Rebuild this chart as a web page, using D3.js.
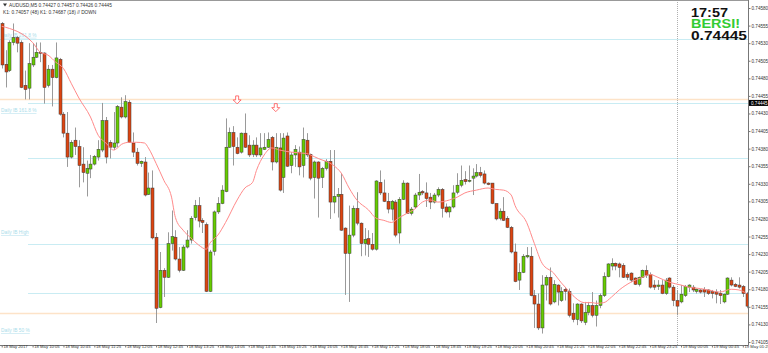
<!DOCTYPE html>
<html>
<head>
<meta charset="utf-8">
<script src="https://cdn.jsdelivr.net/npm/d3@7"></script>
<style>
  body { margin: 0; background: #fff; }
  svg { display: block; font-family: "Liberation Sans", Arial, sans-serif; }
</style>
</head>
<body>
<div id="chart"></div>
<script>
// AUDUSD M5, 18 May 09:25 .. 19 May 01:30 (prices)
const opens = [
  0.74558,0.74500,0.74491,0.74531,0.74538,0.74531,0.74470,0.74466,0.74499,0.74510,
  0.74517,0.74516,0.74470,0.74493,0.74481,0.74507,0.74429,0.74402,0.74368,0.74392,
  0.74383,0.74358,0.74345,0.74351,0.74358,0.74368,0.74378,0.74420,0.74389,0.74382,
  0.74388,0.74439,0.74425,0.74446,0.74388,0.74375,0.74359,0.74361,0.74315,0.74324,
  0.74254,0.74154,0.74207,0.74197,0.74245,0.74254,0.74223,0.74207,0.74240,0.74250,
  0.74282,0.74299,0.74278,0.74272,0.74177,0.74234,0.74290,0.74302,0.74319,0.74382,
  0.74403,0.74382,0.74375,0.74402,0.74385,0.74372,0.74385,0.74371,0.74379,0.74382,
  0.74396,0.74361,0.74381,0.74339,0.74398,0.74356,0.74371,0.74375,0.74356,0.74392,
  0.74372,0.74339,0.74361,0.74339,0.74352,0.74362,0.74304,0.74312,0.74315,0.74267,
  0.74231,0.74257,0.74295,0.74274,0.74245,0.74252,0.74244,0.74237,0.74332,0.74317,
  0.74305,0.74294,0.74304,0.74260,0.74308,0.74331,0.74288,0.74297,0.74314,0.74319,
  0.74317,0.74311,0.74304,0.74314,0.74322,0.74297,0.74290,0.74297,0.74318,0.74328,
  0.74336,0.74334,0.74338,0.74341,0.74346,0.74344,0.74331,0.74331,0.74302,0.74281,0.74291,
  0.74281,0.74268,0.74233,0.74193,0.74204,0.74226,0.74227,0.74171,0.74159,0.74125,
  0.74186,0.74197,0.74162,0.74186,0.74164,0.74180,0.74177,0.74146,0.74137,0.74159,
  0.74133,0.74147,0.74157,0.74143,0.74157,0.74171,0.74198,0.74213,0.74217,0.74216,
  0.74214,0.74201,0.74203,0.74196,0.74187,0.74197,0.74207,0.74201,0.74186,0.74184,
  0.74186,0.74174,0.74196,0.74183,0.74164,0.74162,0.74171,0.74183,0.74183,0.74177,
  0.74179,0.74180,0.74179,0.74177,0.74176,0.74174,0.74162,0.74173,0.74193,0.74187,
  0.74186,0.74184,0.74174
];
const highs = [
  0.74560,0.74520,0.74534,0.74558,0.74540,0.74534,0.74491,0.74530,0.74530,0.74531,
  0.74531,0.74517,0.74499,0.74499,0.74531,0.74509,0.74432,0.74432,0.74392,0.74410,
  0.74392,0.74382,0.74363,0.74371,0.74371,0.74392,0.74445,0.74425,0.74392,0.74432,
  0.74442,0.74453,0.74456,0.74449,0.74403,0.74381,0.74363,0.74368,0.74346,0.74349,
  0.74260,0.74233,0.74210,0.74261,0.74292,0.74264,0.74240,0.74243,0.74264,0.74284,
  0.74307,0.74311,0.74281,0.74275,0.74236,0.74292,0.74311,0.74328,0.74423,0.74410,
  0.74412,0.74396,0.74403,0.74430,0.74399,0.74392,0.74396,0.74402,0.74402,0.74403,
  0.74398,0.74402,0.74402,0.74402,0.74403,0.74375,0.74385,0.74383,0.74410,0.74402,
  0.74373,0.74363,0.74362,0.74354,0.74365,0.74378,0.74378,0.74324,0.74345,0.74268,
  0.74299,0.74299,0.74318,0.74275,0.74267,0.74264,0.74260,0.74335,0.74349,0.74336,
  0.74317,0.74307,0.74307,0.74311,0.74335,0.74332,0.74297,0.74317,0.74344,0.74321,
  0.74332,0.74317,0.74317,0.74325,0.74324,0.74302,0.74298,0.74328,0.74345,0.74356,
  0.74348,0.74356,0.74352,0.74358,0.74354,0.74349,0.74332,0.74331,0.74302,0.74295,0.74311,
  0.74284,0.74270,0.74245,0.74217,0.74230,0.74240,0.74240,0.74179,0.74174,0.74200,
  0.74200,0.74211,0.74193,0.74187,0.74183,0.74183,0.74181,0.74160,0.74160,0.74160,
  0.74162,0.74162,0.74176,0.74164,0.74174,0.74204,0.74217,0.74224,0.74218,0.74218,
  0.74217,0.74204,0.74204,0.74197,0.74198,0.74208,0.74214,0.74204,0.74193,0.74193,
  0.74193,0.74196,0.74197,0.74186,0.74179,0.74186,0.74186,0.74187,0.74186,0.74181,
  0.74180,0.74183,0.74180,0.74179,0.74180,0.74179,0.74174,0.74197,0.74197,0.74189,
  0.74197,0.74186,0.74176
];
const lows = [
  0.74494,0.74467,0.74489,0.74527,0.74517,0.74466,0.74450,0.74450,0.74496,0.74509,
  0.74503,0.74444,0.74467,0.74440,0.74480,0.74427,0.74396,0.74354,0.74366,0.74371,
  0.74325,0.74332,0.74312,0.74338,0.74356,0.74363,0.74375,0.74359,0.74366,0.74378,
  0.74382,0.74423,0.74423,0.74388,0.74368,0.74356,0.74354,0.74312,0.74314,0.74251,
  0.74132,0.74153,0.74169,0.74196,0.74235,0.74221,0.74204,0.74206,0.74238,0.74245,
  0.74278,0.74268,0.74260,0.74176,0.74176,0.74228,0.74287,0.74301,0.74318,0.74381,
  0.74356,0.74372,0.74373,0.74381,0.74368,0.74368,0.74368,0.74368,0.74378,0.74381,
  0.74349,0.74359,0.74319,0.74317,0.74354,0.74345,0.74354,0.74342,0.74339,0.74368,
  0.74335,0.74309,0.74282,0.74324,0.74349,0.74280,0.74288,0.74282,0.74263,0.74172,
  0.74162,0.74254,0.74271,0.74227,0.74228,0.74226,0.74235,0.74235,0.74314,0.74304,
  0.74288,0.74278,0.74254,0.74245,0.74307,0.74287,0.74285,0.74295,0.74307,0.74314,
  0.74297,0.74294,0.74302,0.74311,0.74282,0.74288,0.74282,0.74295,0.74315,0.74325,
  0.74329,0.74332,0.74314,0.74339,0.74339,0.74329,0.74328,0.74301,0.74278,0.74278,0.74277,
  0.74267,0.74231,0.74190,0.74179,0.74203,0.74224,0.74170,0.74125,0.74122,0.74117,
  0.74164,0.74157,0.74160,0.74157,0.74162,0.74164,0.74140,0.74133,0.74129,0.74132,
  0.74129,0.74143,0.74140,0.74127,0.74153,0.74169,0.74197,0.74207,0.74207,0.74197,
  0.74196,0.74193,0.74190,0.74186,0.74184,0.74196,0.74196,0.74181,0.74179,0.74179,
  0.74173,0.74172,0.74181,0.74156,0.74143,0.74160,0.74169,0.74176,0.74176,0.74174,
  0.74174,0.74169,0.74172,0.74167,0.74160,0.74159,0.74160,0.74172,0.74184,0.74183,
  0.74181,0.74169,0.74153
];
const closes = [
  0.74499,0.74489,0.74531,0.74538,0.74530,0.74467,0.74464,0.74501,0.74510,0.74517,
  0.74516,0.74467,0.74493,0.74481,0.74509,0.74429,0.74402,0.74368,0.74389,0.74383,
  0.74356,0.74346,0.74352,0.74358,0.74369,0.74379,0.74420,0.74368,0.74382,0.74388,
  0.74440,0.74425,0.74447,0.74389,0.74375,0.74359,0.74362,0.74314,0.74324,0.74253,
  0.74153,0.74207,0.74197,0.74245,0.74255,0.74223,0.74207,0.74240,0.74250,0.74281,
  0.74299,0.74277,0.74275,0.74177,0.74233,0.74290,0.74302,0.74321,0.74382,0.74403,
  0.74383,0.74373,0.74402,0.74382,0.74371,0.74385,0.74371,0.74381,0.74382,0.74393,
  0.74361,0.74382,0.74321,0.74395,0.74355,0.74371,0.74379,0.74354,0.74393,0.74371,
  0.74338,0.74361,0.74338,0.74352,0.74362,0.74304,0.74312,0.74315,0.74264,0.74231,
  0.74257,0.74295,0.74274,0.74245,0.74251,0.74244,0.74237,0.74334,0.74317,0.74305,
  0.74294,0.74305,0.74257,0.74308,0.74331,0.74288,0.74294,0.74314,0.74318,0.74317,
  0.74309,0.74304,0.74314,0.74322,0.74295,0.74290,0.74297,0.74317,0.74328,0.74335,
  0.74333,0.74335,0.74341,0.74346,0.74342,0.74331,0.74329,0.74302,0.74280,0.74291,0.74278,
  0.74268,0.74233,0.74191,0.74204,0.74227,0.74228,0.74171,0.74159,0.74125,0.74186,
  0.74197,0.74159,0.74187,0.74176,0.74177,0.74177,0.74143,0.74137,0.74159,0.74135,
  0.74147,0.74157,0.74143,0.74157,0.74171,0.74198,0.74216,0.74217,0.74213,0.74211,
  0.74197,0.74197,0.74193,0.74187,0.74197,0.74207,0.74200,0.74183,0.74183,0.74186,
  0.74174,0.74193,0.74183,0.74164,0.74156,0.74173,0.74184,0.74186,0.74179,0.74180,
  0.74176,0.74176,0.74174,0.74174,0.74173,0.74171,0.74173,0.74196,0.74186,0.74184,
  0.74183,0.74174,0.74156
];

// moving average line, read at these bars
const maBars = [0,8,10,12,14,16,18,20,23,25,27,29,30,31,33,35,37,38,40,42,44,45,47,49,51,53,54,56,58,61,63,65,66,68,70,72,75,79,80,82,86,88,90,92,95,97,99,101,103,105,107,109,111,113,116,118,120,123,126,128,130,132,133,136,138,140,143,145,146,148,151,153,154,156,158,160,163,166,168,170,173,176,178,181,183,186,189,191,193];
const maValues = [0.74554,0.74531,0.74517,0.74513,0.74503,0.74494,0.74473,0.74452,0.74425,0.74399,0.74388,0.74378,0.74381,0.74386,0.74389,0.74389,0.74388,0.74381,0.74359,0.74335,0.74311,0.74282,0.74264,0.74253,0.74243,0.74237,0.74246,0.74257,0.74275,0.74307,0.74324,0.74332,0.74349,0.74371,0.74381,0.74378,0.74375,0.74373,0.74371,0.74366,0.74356,0.74345,0.74324,0.74307,0.74293,0.74281,0.74278,0.74275,0.74282,0.74288,0.74294,0.74304,0.74307,0.74304,0.74307,0.74311,0.74317,0.74321,0.74324,0.74322,0.74321,0.74314,0.74299,0.74275,0.74245,0.74217,0.74203,0.74189,0.74183,0.74171,0.74161,0.74161,0.74160,0.74161,0.74169,0.74179,0.74190,0.74197,0.74201,0.74197,0.74190,0.74186,0.74183,0.74181,0.74179,0.74176,0.74180,0.74179,0.74174];

// level lines
const levelPrices = [0.74536, 0.74450, 0.74445, 0.74366, 0.74244, 0.74174, 0.74146];
const levelKinds  = ['ib', 'hi', 'ib', 'ib', 'ib', 'ib', 'hi'];
const levelStart  = [0, 0, 7, 7, 7, 7, 0];
const levelLabels = ['Daily IB 261.8 %', 'Daily IB 161.8 %', 'Daily IB High', 'Daily IB 50 %'];
const levelLabelPrices = [0.74539, 0.74432, 0.74258, 0.74119];

// signal arrows (bar, price)
const arrowBars = [61, 71];
const arrowPrices = [0.74455, 0.74444];

const priceTicks = [0.74580,0.74555,0.74530,0.74505,0.74480,0.74455,0.74430,0.74405,0.74380,0.74355,0.74330,0.74305,0.74280,0.74255,0.74230,0.74205,0.74180,0.74155,0.74130,0.74105];
const timeLabels = ['18 May 2017','18 May 10:05','18 May 10:45','18 May 11:25','18 May 12:05','18 May 12:45','18 May 13:25','18 May 14:05','18 May 14:45','18 May 15:25','18 May 16:05','18 May 16:45','18 May 17:25','18 May 18:05','18 May 18:45','18 May 19:25','18 May 20:05','18 May 20:45','18 May 21:25','18 May 22:05','18 May 22:45','18 May 23:25','19 May 00:05','19 May 00:45','19 May 01:25'];
const daySeparatorBar = 175;
const lastPrice = 0.74445;
const headerLine1 = 'AUDUSD,M5  0.74427 0.74457 0.74426 0.74445';
const headerLine2 = 'K1: 0.74057 (48)    K1: 0.74687 (18)    // DOWN';
const infoTime = '17:57';
const infoSignal = 'BERSI!';
const infoPrice = '0.74445';

const W = 768, H = 353;
const plotW = 748, plotH = 345.5;

const svg = d3.select('#chart').append('svg')
  .attr('width', W).attr('height', H);

const x = d3.scaleLinear().domain([0, 192]).range([1.7, 742.8]);
const y = d3.scaleLinear().domain([0.74105, 0.74580]).range([342, 8]);

svg.append('clipPath').attr('id', 'plot-clip')
  .append('rect').attr('x', 0).attr('y', 0).attr('width', plotW).attr('height', plotH);

const plot = svg.append('g').attr('clip-path', 'url(#plot-clip)');

// level lines
levelPrices.forEach((p, i) => {
  plot.append('line')
    .attr('x1', levelStart[i] === 0 ? 0 : 28).attr('x2', plotW)
    .attr('y1', Math.round(y(p)) + 0.5).attr('y2', Math.round(y(p)) + 0.5)
    .attr('stroke', levelKinds[i] === 'ib' ? '#c9ecf3' : '#fde3c8')
    .attr('stroke-width', levelKinds[i] === 'ib' ? 1 : 1.5);
});
levelLabels.forEach((t, i) => {
  plot.append('text')
    .attr('x', 1).attr('y', y(levelLabelPrices[i]))
    .attr('font-size', 4.8).attr('fill', '#a9dcea')
    .attr('text-decoration', 'underline')
    .text(t);
});

// day separator
plot.append('line')
  .attr('x1', Math.round(x(daySeparatorBar)) + 0.5).attr('x2', Math.round(x(daySeparatorBar)) + 0.5)
  .attr('y1', 0).attr('y2', plotH)
  .attr('stroke', '#b0b0b0').attr('stroke-dasharray', '1,1');

// candles
const bars = d3.range(opens.length).map(i => ({
  i, o: opens[i], h: highs[i], l: lows[i], c: closes[i]
}));
const candle = plot.selectAll('.candle').data(bars).join('g').attr('class', 'candle');
candle.append('line')
  .attr('x1', d => Math.round(x(d.i)) + 0.5).attr('x2', d => Math.round(x(d.i)) + 0.5)
  .attr('y1', d => y(d.h)).attr('y2', d => y(d.l))
  .attr('stroke', '#9a9a9a').attr('stroke-width', 1);
candle.append('rect')
  .attr('x', d => Math.round(x(d.i)) - 1)
  .attr('y', d => y(Math.max(d.o, d.c)))
  .attr('width', 3)
  .attr('height', d => Math.max(1, Math.abs(y(d.o) - y(d.c))))
  .attr('fill', d => d.c >= d.o ? '#66cc00' : '#dd4411')
  .attr('stroke', '#3a3a3a').attr('stroke-width', 0.5);

// moving average
const maLine = d3.line()
  .x((d, i) => x(maBars[i]))
  .y(d => y(d))
  .curve(d3.curveMonotoneX);
plot.append('path')
  .attr('d', maLine(maValues))
  .attr('fill', 'none').attr('stroke', '#ff8a8a').attr('stroke-width', 1);

// arrows
arrowBars.forEach((b, i) => {
  const cx = x(b), top = y(arrowPrices[i]);
  plot.append('path')
    .attr('d', `M${cx - 1.5},${top} h3 v4 h2.5 l-4,4 l-4,-4 h2.5 z`)
    .attr('fill', '#fff').attr('stroke', '#ff5050').attr('stroke-width', 0.8);
});

// frame
svg.append('line').attr('x1', 0).attr('x2', plotW).attr('y1', 0.5).attr('y2', 0.5).attr('stroke', '#999');
svg.append('line').attr('x1', plotW + 0.5).attr('x2', plotW + 0.5).attr('y1', 0).attr('y2', plotH).attr('stroke', '#777');
svg.append('line').attr('x1', 0).attr('x2', plotW).attr('y1', plotH).attr('y2', plotH).attr('stroke', '#777');

// price axis
const yAxis = d3.axisRight(y).tickValues(priceTicks).tickFormat(d3.format('.5f')).tickSize(2).tickPadding(1);
const yAxisG = svg.append('g').attr('transform', `translate(${plotW + 0.5},0)`).call(yAxis);
yAxisG.select('.domain').remove();
yAxisG.selectAll('text').attr('font-size', 4.6).attr('fill', '#333').attr('font-family', 'Liberation Sans');
yAxisG.selectAll('line').attr('stroke', '#777');

// current price tag
svg.append('rect').attr('x', plotW + 1).attr('y', y(lastPrice) - 3).attr('width', 19).attr('height', 6).attr('fill', '#000');
svg.append('text').attr('x', plotW + 3).attr('y', y(lastPrice) + 1.7)
  .attr('font-size', 4.6).attr('fill', '#fff').text(d3.format('.5f')(lastPrice));

// time axis
const labelBars = timeLabels.map((t, i) => i * 8);
const xAxis = d3.axisBottom(x).tickValues(labelBars).tickFormat((d, i) => timeLabels[i]).tickSize(2).tickPadding(1);
const xAxisG = svg.append('g').attr('transform', `translate(0,${plotH})`).call(xAxis);
xAxisG.select('.domain').remove();
xAxisG.selectAll('text').attr('font-size', 4.2).attr('fill', '#333')
  .attr('text-anchor', 'start').attr('dx', 1.2).attr('dy', -0.3);
xAxisG.selectAll('line').attr('stroke', '#777');

// header
svg.append('path').attr('d', 'M3,3.5 h4 l-2,3 z').attr('fill', '#333');
svg.append('text').attr('x', 9).attr('y', 7).attr('font-size', 4.8).attr('fill', '#333').text(headerLine1);
svg.append('text').attr('x', 3).attr('y', 13.5).attr('font-size', 4.8).attr('fill', '#333').text(headerLine2);

// info box, top right
const info = svg.append('g').attr('font-weight', 'bold').attr('font-family', 'Liberation Sans, Arial');
info.append('text').attr('x', 691).attr('y', 16.5).attr('font-size', 12).attr('fill', '#111')
  .attr('textLength', 37).attr('lengthAdjust', 'spacingAndGlyphs').text(infoTime);
info.append('text').attr('x', 691).attr('y', 28).attr('font-size', 12).attr('fill', '#33cc33')
  .attr('textLength', 49).attr('lengthAdjust', 'spacingAndGlyphs').text(infoSignal);
info.append('text').attr('x', 691).attr('y', 39.5).attr('font-size', 12).attr('fill', '#111')
  .attr('textLength', 56).attr('lengthAdjust', 'spacingAndGlyphs').text(infoPrice);
</script>
</body>
</html>
